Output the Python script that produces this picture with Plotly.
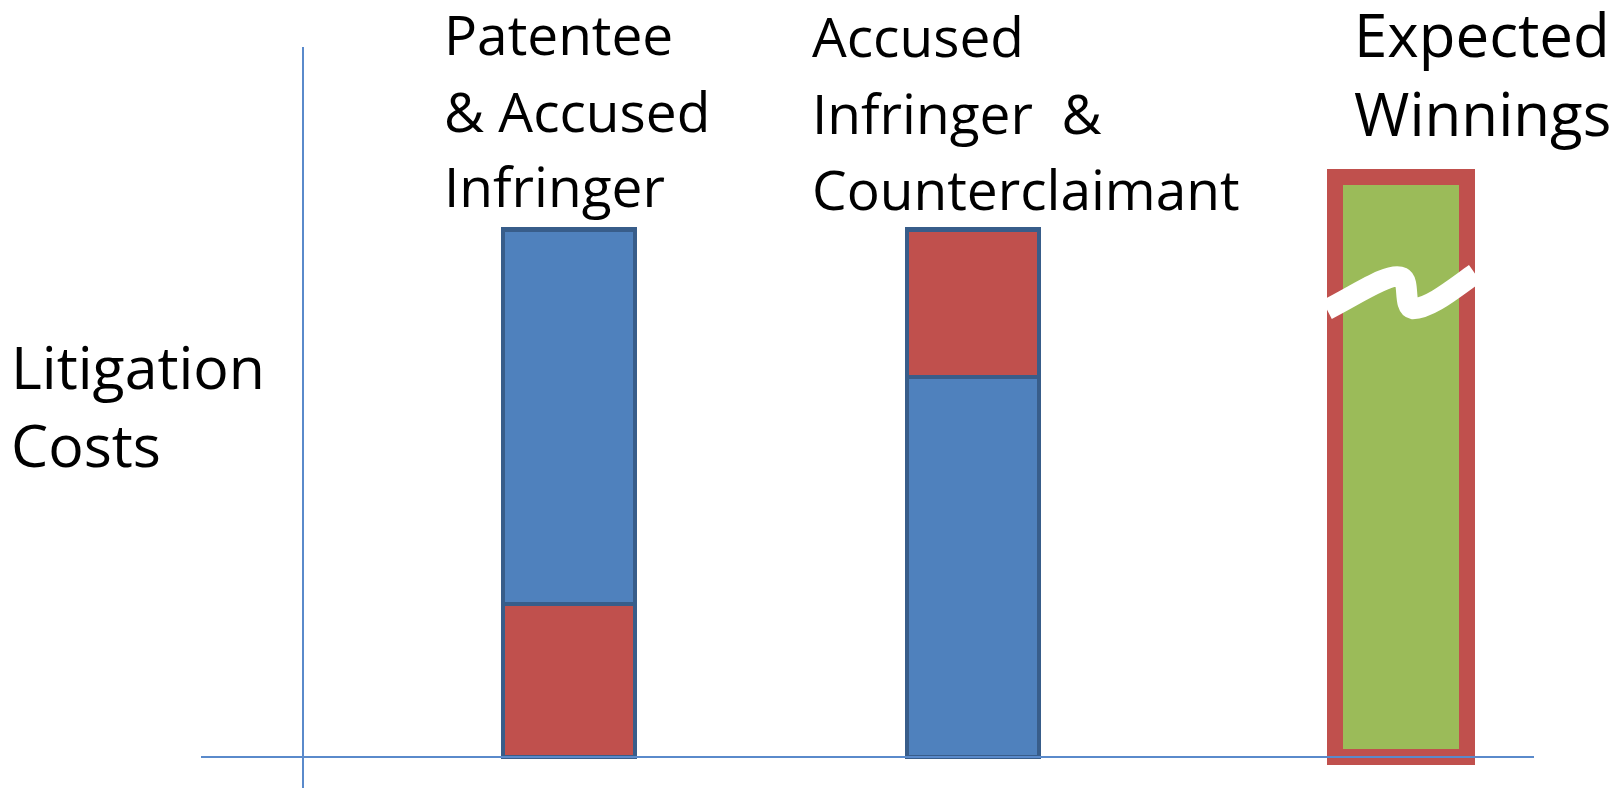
import plotly.graph_objects as go

# ---------------- data ----------------
categories = ["Patentee & Accused Infringer",
              "Accused Infringer & Counterclaimant",
              "Expected Winnings"]
blue_costs = [71, 72]       # larger cost block in bars 1 and 2
red_costs = [29, 28]        # smaller cost block in bars 1 and 2
expected_winnings = [110]   # drawn height of the (broken) third bar
break_at = 85               # value where the break squiggle is drawn

label_lines = [["Patentee", "& Accused", "Infringer"],
               ["Accused", "Infringer\u00a0 &", "Counterclaimant"],
               ["Expected", "Winnings"]]
axis_title_lines = ["Litigation", "Costs"]

# ---------------- style / layout ----------------
W, H = 1624, 788
BLUE, RED, GREEN = "#4F81BD", "#C0504D", "#9BBB59"
EDGE = "#385D8A"
AXIS = "#5A8ACB"
FONT = "Open Sans"

px_per_cat = 416.0
x_dom = (200.7 / W, 1534.3 / W)
x_range = [-(569 - 200.7) / px_per_cat, -(569 - 200.7) / px_per_cat + 1333.6 / px_per_cat]
px_per_unit = 5.275
y_dom = (0, (H - 46.6) / H)
y_range = [-31 / px_per_unit, (757 - 46.6) / px_per_unit]
bw = 132 / px_per_cat
shift2 = -12 / px_per_cat

fig = go.Figure()
# bar 1: red below blue
fig.add_trace(go.Bar(x=[categories[0]], y=[red_costs[0]], width=bw, offset=-bw / 2,
                     marker=dict(color=RED, line=dict(color=EDGE, width=4.5)), name="red"))
fig.add_trace(go.Bar(x=[categories[0]], y=[blue_costs[0]], width=bw, offset=-bw / 2,
                     marker=dict(color=BLUE, line=dict(color=EDGE, width=4.5)), name="blue"))
# bar 2: blue below red
fig.add_trace(go.Bar(x=[categories[1]], y=[blue_costs[1]], width=bw, offset=-bw / 2 + shift2,
                     marker=dict(color=BLUE, line=dict(color=EDGE, width=4.5)), name="blue"))
fig.add_trace(go.Bar(x=[categories[1]], y=[red_costs[1]], width=bw, offset=-bw / 2 + shift2,
                     marker=dict(color=RED, line=dict(color=EDGE, width=4.5)), name="red"))
# bar 3
fig.add_trace(go.Bar(x=[categories[2]], y=expected_winnings, width=bw, offset=-bw / 2,
                     marker=dict(color=GREEN, line=dict(color=RED, width=16)), name="winnings"))

# break squiggle (relative to bar 3 centre and break value)
def bx(dpx):
    return 2 + dpx / px_per_cat
def by(dpx):
    return break_at + dpx / px_per_unit

# offsets in px relative to (bar centre, break line); y offset positive = up
pts = [(-74, -1), (-41, 16), (-11, 37), (1, 31), (9, 27), (2, 2), (12, 0),
       (29, 0), (54, 21), (74, 35)]
p = [(bx(a), by(b)) for a, b in pts]
path = "M {:.4f},{:.4f} C {:.4f},{:.4f} {:.4f},{:.4f} {:.4f},{:.4f} C {:.4f},{:.4f} {:.4f},{:.4f} {:.4f},{:.4f} C {:.4f},{:.4f} {:.4f},{:.4f} {:.4f},{:.4f}".format(
    *[c for pt in p for c in pt])
fig.add_shape(type="path", path=path, xref="x", yref="y",
              line=dict(color="white", width=21), fillcolor="rgba(0,0,0,0)")

# text labels (one annotation per line)
def add_line(text, xpx, base_px, fs):
    fig.add_annotation(text=text, x=xpx / W, y=1 - (base_px - 0.388 * fs) / H,
                       xref="paper", yref="paper", xanchor="left", yanchor="middle",
                       showarrow=False, font=dict(family=FONT, size=fs, color="black"))

for line, base in zip(label_lines[0], [55, 132, 207]):
    add_line(line, 442, base, 55)
for line, base in zip(label_lines[1], [57, 134, 210]):
    add_line(line, 810, base, 55)
for line, base in zip(label_lines[2], [57, 136]):
    add_line(line, 1352, base, 60)
for line, base in zip(axis_title_lines, [389, 467]):
    add_line(line, 9, base, 59)

fig.update_layout(
    width=W, height=H, barmode="stack", showlegend=False,
    margin=dict(l=0, r=0, t=0, b=0),
    paper_bgcolor="white", plot_bgcolor="rgba(0,0,0,0)",
    xaxis=dict(domain=list(x_dom), range=x_range, type="category",
               categoryorder="array", categoryarray=categories,
               showticklabels=False, ticks="", showgrid=False, zeroline=False,
               showline=True, linecolor=AXIS, linewidth=1.6,
               anchor="free", position=(H - 757) / H),
    yaxis=dict(domain=list(y_dom), range=y_range, showticklabels=False, ticks="",
               showgrid=False, zeroline=False, showline=True, linecolor=AXIS,
               linewidth=1.6, anchor="free", position=302.7 / W),
)

fig.write_html("out.html", config={"displayModeBar": False},
               post_script="document.body.style.margin='0';document.body.style.overflow='hidden';")
